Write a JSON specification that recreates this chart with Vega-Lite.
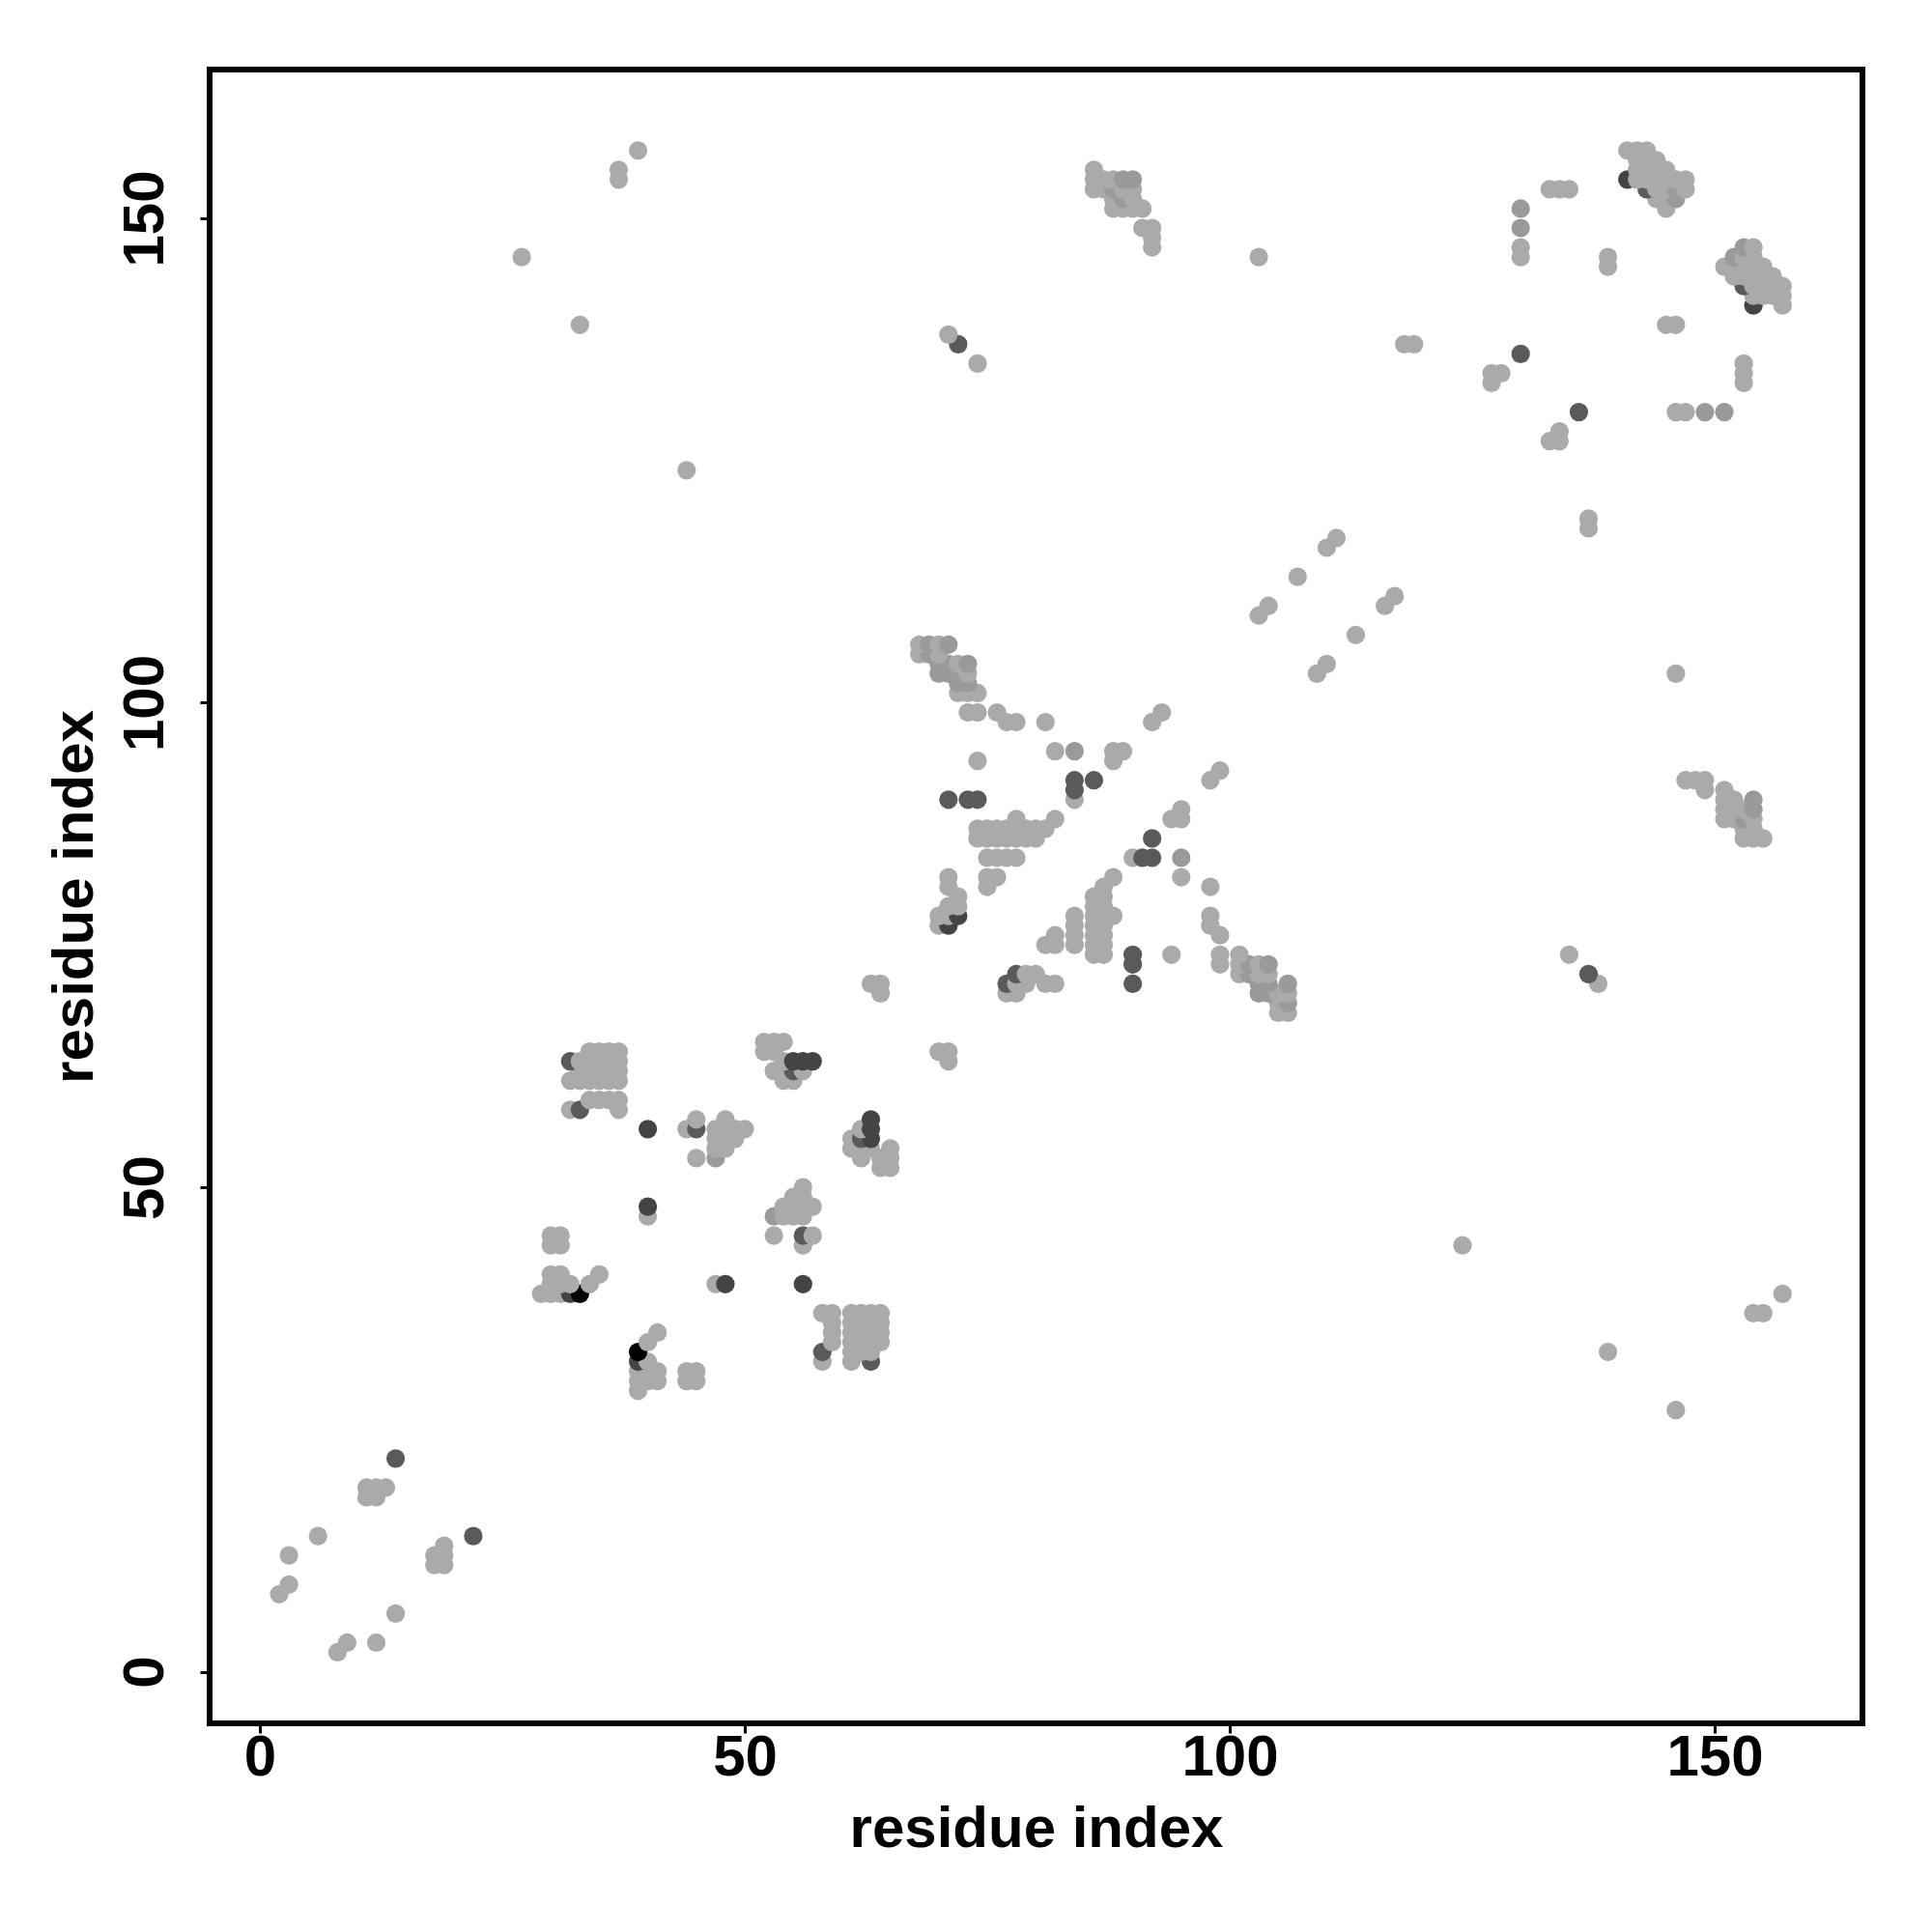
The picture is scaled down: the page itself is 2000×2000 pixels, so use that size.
{"$schema":"https://vega.github.io/schema/vega-lite/v6.json","autosize":{"type":"none"},"padding":{"left":217,"top":72,"right":72,"bottom":216},"width":1711,"height":1712,"background":"#ffffff","view":{"stroke":"#000000","strokeWidth":6,"fill":null},
"data":{"values":[
{"x":8,"y":2,"g":"a"},{"x":9,"y":3,"g":"a"},{"x":12,"y":3,"g":"a"},{"x":14,"y":6,"g":"a"},{"x":2,"y":8,"g":"a"},{"x":3,"y":9,"g":"a"},{"x":18,"y":11,"g":"a"},{"x":19,"y":11,"g":"a"},{"x":3,"y":12,"g":"a"},{"x":18,"y":12,"g":"a"},{"x":19,"y":12,"g":"a"},{"x":19,"y":13,"g":"a"},{"x":6,"y":14,"g":"a"},{"x":22,"y":14,"g":"d"},{"x":11,"y":18,"g":"a"},{"x":12,"y":18,"g":"a"},{"x":11,"y":19,"g":"a"},{"x":12,"y":19,"g":"a"},{"x":13,"y":19,"g":"a"},{"x":14,"y":22,"g":"d"},{"x":146,"y":27,"g":"a"},
{"x":39,"y":29,"g":"a"},{"x":39,"y":30,"g":"a"},{"x":40,"y":30,"g":"a"},{"x":41,"y":30,"g":"a"},{"x":44,"y":30,"g":"a"},{"x":45,"y":30,"g":"a"},{"x":39,"y":31,"g":"a"},{"x":40,"y":31,"g":"a"},{"x":41,"y":31,"g":"a"},{"x":44,"y":31,"g":"a"},{"x":45,"y":31,"g":"a"},
{"x":39,"y":32,"g":"e"},{"x":40,"y":32,"g":"a"},{"x":58,"y":32,"g":"a"},{"x":61,"y":32,"g":"a"},{"x":63,"y":32,"g":"d"},
{"x":39,"y":33,"g":"k"},{"x":58,"y":33,"g":"d"},{"x":61,"y":33,"g":"a"},{"x":62,"y":33,"g":"a"},{"x":63,"y":33,"g":"a"},{"x":139,"y":33,"g":"a"},
{"x":40,"y":34,"g":"a"},{"x":59,"y":34,"g":"a"},{"x":61,"y":34,"g":"a"},{"x":62,"y":34,"g":"a"},{"x":63,"y":34,"g":"a"},{"x":64,"y":34,"g":"a"},
{"x":41,"y":35,"g":"a"},{"x":59,"y":35,"g":"a"},{"x":61,"y":35,"g":"a"},{"x":62,"y":35,"g":"a"},{"x":63,"y":35,"g":"a"},{"x":64,"y":35,"g":"a"},
{"x":59,"y":36,"g":"a"},{"x":61,"y":36,"g":"a"},{"x":62,"y":36,"g":"a"},{"x":63,"y":36,"g":"a"},{"x":64,"y":36,"g":"a"},
{"x":58,"y":37,"g":"a"},{"x":59,"y":37,"g":"a"},{"x":61,"y":37,"g":"a"},{"x":62,"y":37,"g":"a"},{"x":63,"y":37,"g":"a"},{"x":64,"y":37,"g":"a"},{"x":154,"y":37,"g":"a"},{"x":155,"y":37,"g":"a"},
{"x":29,"y":39,"g":"a"},{"x":30,"y":39,"g":"a"},{"x":31,"y":39,"g":"a"},{"x":32,"y":39,"g":"e"},{"x":33,"y":39,"g":"k"},{"x":157,"y":39,"g":"a"},
{"x":30,"y":40,"g":"a"},{"x":31,"y":40,"g":"a"},{"x":32,"y":40,"g":"a"},{"x":34,"y":40,"g":"a"},{"x":47,"y":40,"g":"a"},{"x":48,"y":40,"g":"e"},{"x":56,"y":40,"g":"e"},
{"x":30,"y":41,"g":"a"},{"x":31,"y":41,"g":"a"},{"x":35,"y":41,"g":"a"},
{"x":30,"y":44,"g":"a"},{"x":31,"y":44,"g":"a"},{"x":56,"y":44,"g":"a"},{"x":124,"y":44,"g":"a"},
{"x":30,"y":45,"g":"a"},{"x":31,"y":45,"g":"a"},{"x":53,"y":45,"g":"a"},{"x":56,"y":45,"g":"d"},{"x":57,"y":45,"g":"a"},
{"x":40,"y":47,"g":"a"},{"x":53,"y":47,"g":"m"},{"x":54,"y":47,"g":"a"},{"x":55,"y":47,"g":"a"},{"x":56,"y":47,"g":"a"},
{"x":40,"y":48,"g":"e"},{"x":54,"y":48,"g":"a"},{"x":55,"y":48,"g":"a"},{"x":56,"y":48,"g":"a"},{"x":57,"y":48,"g":"a"},
{"x":55,"y":49,"g":"a"},{"x":56,"y":49,"g":"a"},{"x":56,"y":50,"g":"a"},
{"x":64,"y":52,"g":"a"},{"x":65,"y":52,"g":"a"},
{"x":45,"y":53,"g":"a"},{"x":47,"y":53,"g":"m"},{"x":62,"y":53,"g":"a"},{"x":64,"y":53,"g":"a"},{"x":65,"y":53,"g":"a"},
{"x":47,"y":54,"g":"a"},{"x":48,"y":54,"g":"a"},{"x":61,"y":54,"g":"a"},{"x":62,"y":54,"g":"a"},{"x":63,"y":54,"g":"a"},{"x":65,"y":54,"g":"a"},
{"x":47,"y":55,"g":"a"},{"x":48,"y":55,"g":"a"},{"x":49,"y":55,"g":"a"},{"x":61,"y":55,"g":"a"},{"x":62,"y":55,"g":"d"},{"x":63,"y":55,"g":"e"},
{"x":40,"y":56,"g":"e"},{"x":44,"y":56,"g":"a"},{"x":45,"y":56,"g":"d"},{"x":47,"y":56,"g":"a"},{"x":48,"y":56,"g":"a"},{"x":49,"y":56,"g":"a"},{"x":50,"y":56,"g":"a"},{"x":62,"y":56,"g":"a"},{"x":63,"y":56,"g":"e"},
{"x":45,"y":57,"g":"a"},{"x":48,"y":57,"g":"a"},{"x":63,"y":57,"g":"e"},
{"x":32,"y":58,"g":"a"},{"x":33,"y":58,"g":"d"},{"x":37,"y":58,"g":"a"},
{"x":34,"y":59,"g":"a"},{"x":35,"y":59,"g":"a"},{"x":36,"y":59,"g":"a"},{"x":37,"y":59,"g":"a"},
{"x":32,"y":61,"g":"a"},{"x":33,"y":61,"g":"a"},{"x":34,"y":61,"g":"a"},{"x":35,"y":61,"g":"a"},{"x":36,"y":61,"g":"a"},{"x":37,"y":61,"g":"a"},{"x":54,"y":61,"g":"a"},{"x":55,"y":61,"g":"a"},
{"x":33,"y":62,"g":"a"},{"x":34,"y":62,"g":"a"},{"x":35,"y":62,"g":"a"},{"x":36,"y":62,"g":"a"},{"x":37,"y":62,"g":"a"},{"x":53,"y":62,"g":"a"},{"x":54,"y":62,"g":"a"},{"x":55,"y":62,"g":"d"},{"x":56,"y":62,"g":"a"},
{"x":32,"y":63,"g":"d"},{"x":33,"y":63,"g":"a"},{"x":34,"y":63,"g":"a"},{"x":35,"y":63,"g":"a"},{"x":36,"y":63,"g":"a"},{"x":37,"y":63,"g":"a"},{"x":54,"y":63,"g":"a"},{"x":55,"y":63,"g":"e"},{"x":56,"y":63,"g":"e"},{"x":57,"y":63,"g":"e"},{"x":71,"y":63,"g":"a"},
{"x":34,"y":64,"g":"a"},{"x":35,"y":64,"g":"a"},{"x":36,"y":64,"g":"a"},{"x":37,"y":64,"g":"a"},{"x":52,"y":64,"g":"a"},{"x":53,"y":64,"g":"a"},{"x":70,"y":64,"g":"a"},{"x":71,"y":64,"g":"a"},
{"x":52,"y":65,"g":"a"},{"x":53,"y":65,"g":"a"},{"x":54,"y":65,"g":"a"},
{"x":105,"y":68,"g":"a"},{"x":106,"y":68,"g":"a"},{"x":105,"y":69,"g":"a"},{"x":106,"y":69,"g":"m"},
{"x":64,"y":70,"g":"a"},{"x":77,"y":70,"g":"a"},{"x":78,"y":70,"g":"a"},{"x":103,"y":70,"g":"m"},{"x":104,"y":70,"g":"m"},{"x":105,"y":70,"g":"a"},{"x":106,"y":70,"g":"a"},
{"x":63,"y":71,"g":"a"},{"x":64,"y":71,"g":"a"},{"x":77,"y":71,"g":"d"},{"x":78,"y":71,"g":"a"},{"x":79,"y":71,"g":"a"},{"x":81,"y":71,"g":"a"},{"x":82,"y":71,"g":"a"},{"x":90,"y":71,"g":"d"},{"x":103,"y":71,"g":"m"},{"x":104,"y":71,"g":"m"},{"x":106,"y":71,"g":"m"},{"x":138,"y":71,"g":"a"},
{"x":78,"y":72,"g":"d"},{"x":79,"y":72,"g":"a"},{"x":80,"y":72,"g":"a"},{"x":101,"y":72,"g":"a"},{"x":102,"y":72,"g":"m"},{"x":103,"y":72,"g":"a"},{"x":104,"y":72,"g":"a"},{"x":137,"y":72,"g":"d"},
{"x":90,"y":73,"g":"d"},{"x":99,"y":73,"g":"a"},{"x":101,"y":73,"g":"a"},{"x":102,"y":73,"g":"m"},{"x":103,"y":73,"g":"a"},{"x":104,"y":73,"g":"m"},
{"x":86,"y":74,"g":"a"},{"x":87,"y":74,"g":"a"},{"x":90,"y":74,"g":"d"},{"x":94,"y":74,"g":"a"},{"x":99,"y":74,"g":"a"},{"x":101,"y":74,"g":"a"},{"x":135,"y":74,"g":"a"},
{"x":81,"y":75,"g":"a"},{"x":82,"y":75,"g":"a"},{"x":84,"y":75,"g":"a"},{"x":86,"y":75,"g":"a"},{"x":87,"y":75,"g":"a"},
{"x":82,"y":76,"g":"a"},{"x":84,"y":76,"g":"a"},{"x":86,"y":76,"g":"a"},{"x":87,"y":76,"g":"a"},{"x":99,"y":76,"g":"a"},
{"x":70,"y":77,"g":"a"},{"x":71,"y":77,"g":"e"},{"x":84,"y":77,"g":"a"},{"x":86,"y":77,"g":"a"},{"x":87,"y":77,"g":"a"},{"x":98,"y":77,"g":"a"},
{"x":70,"y":78,"g":"a"},{"x":71,"y":78,"g":"a"},{"x":72,"y":78,"g":"e"},{"x":84,"y":78,"g":"a"},{"x":86,"y":78,"g":"a"},{"x":87,"y":78,"g":"a"},{"x":88,"y":78,"g":"a"},{"x":98,"y":78,"g":"a"},
{"x":71,"y":79,"g":"a"},{"x":72,"y":79,"g":"a"},{"x":86,"y":79,"g":"a"},{"x":87,"y":79,"g":"a"},
{"x":72,"y":80,"g":"a"},{"x":86,"y":80,"g":"a"},{"x":87,"y":80,"g":"a"},
{"x":71,"y":81,"g":"a"},{"x":75,"y":81,"g":"a"},{"x":87,"y":81,"g":"a"},{"x":98,"y":81,"g":"a"},
{"x":71,"y":82,"g":"a"},{"x":75,"y":82,"g":"a"},{"x":76,"y":82,"g":"a"},{"x":88,"y":82,"g":"a"},{"x":95,"y":82,"g":"a"},
{"x":75,"y":84,"g":"a"},{"x":76,"y":84,"g":"a"},{"x":77,"y":84,"g":"a"},{"x":78,"y":84,"g":"a"},{"x":90,"y":84,"g":"a"},{"x":91,"y":84,"g":"d"},{"x":92,"y":84,"g":"d"},{"x":95,"y":84,"g":"m"},
{"x":74,"y":86,"g":"a"},{"x":75,"y":86,"g":"a"},{"x":76,"y":86,"g":"a"},{"x":77,"y":86,"g":"a"},{"x":78,"y":86,"g":"a"},{"x":79,"y":86,"g":"a"},{"x":80,"y":86,"g":"a"},{"x":92,"y":86,"g":"d"},{"x":153,"y":86,"g":"a"},{"x":154,"y":86,"g":"a"},{"x":155,"y":86,"g":"a"},
{"x":74,"y":87,"g":"a"},{"x":75,"y":87,"g":"a"},{"x":76,"y":87,"g":"a"},{"x":77,"y":87,"g":"a"},{"x":78,"y":87,"g":"a"},{"x":79,"y":87,"g":"a"},{"x":80,"y":87,"g":"a"},{"x":81,"y":87,"g":"a"},{"x":153,"y":87,"g":"a"},{"x":154,"y":87,"g":"a"},
{"x":78,"y":88,"g":"a"},{"x":82,"y":88,"g":"a"},{"x":94,"y":88,"g":"a"},{"x":95,"y":88,"g":"a"},{"x":151,"y":88,"g":"a"},{"x":152,"y":88,"g":"a"},{"x":153,"y":88,"g":"m"},{"x":154,"y":88,"g":"a"},
{"x":95,"y":89,"g":"a"},{"x":151,"y":89,"g":"a"},{"x":152,"y":89,"g":"a"},{"x":153,"y":89,"g":"a"},{"x":154,"y":89,"g":"m"},
{"x":71,"y":90,"g":"d"},{"x":73,"y":90,"g":"d"},{"x":74,"y":90,"g":"d"},{"x":84,"y":90,"g":"a"},{"x":151,"y":90,"g":"a"},{"x":152,"y":90,"g":"a"},{"x":154,"y":90,"g":"m"},
{"x":84,"y":91,"g":"d"},{"x":149,"y":91,"g":"a"},{"x":151,"y":91,"g":"a"},
{"x":84,"y":92,"g":"d"},{"x":86,"y":92,"g":"d"},{"x":98,"y":92,"g":"a"},{"x":147,"y":92,"g":"a"},{"x":148,"y":92,"g":"a"},{"x":149,"y":92,"g":"a"},
{"x":99,"y":93,"g":"a"},{"x":74,"y":94,"g":"a"},{"x":88,"y":94,"g":"a"},
{"x":82,"y":95,"g":"a"},{"x":84,"y":95,"g":"m"},{"x":88,"y":95,"g":"a"},{"x":89,"y":95,"g":"a"},
{"x":77,"y":98,"g":"a"},{"x":78,"y":98,"g":"a"},{"x":81,"y":98,"g":"a"},{"x":92,"y":98,"g":"a"},
{"x":73,"y":99,"g":"a"},{"x":74,"y":99,"g":"a"},{"x":76,"y":99,"g":"a"},{"x":93,"y":99,"g":"a"},
{"x":72,"y":101,"g":"a"},{"x":73,"y":101,"g":"a"},{"x":74,"y":101,"g":"a"},{"x":72,"y":102,"g":"m"},{"x":73,"y":102,"g":"m"},
{"x":70,"y":103,"g":"m"},{"x":71,"y":103,"g":"m"},{"x":72,"y":103,"g":"m"},{"x":73,"y":103,"g":"a"},{"x":109,"y":103,"g":"a"},{"x":146,"y":103,"g":"a"},
{"x":70,"y":104,"g":"m"},{"x":71,"y":104,"g":"m"},{"x":72,"y":104,"g":"a"},{"x":73,"y":104,"g":"m"},{"x":110,"y":104,"g":"a"},
{"x":68,"y":105,"g":"a"},{"x":69,"y":105,"g":"m"},{"x":70,"y":105,"g":"a"},
{"x":68,"y":106,"g":"a"},{"x":69,"y":106,"g":"m"},{"x":70,"y":106,"g":"a"},{"x":71,"y":106,"g":"m"},
{"x":113,"y":107,"g":"a"},{"x":103,"y":109,"g":"a"},{"x":104,"y":110,"g":"a"},{"x":116,"y":110,"g":"a"},{"x":117,"y":111,"g":"a"},{"x":107,"y":113,"g":"a"},{"x":110,"y":116,"g":"a"},{"x":111,"y":117,"g":"a"},
{"x":137,"y":118,"g":"a"},{"x":137,"y":119,"g":"a"},{"x":44,"y":124,"g":"a"},{"x":133,"y":127,"g":"a"},{"x":134,"y":127,"g":"a"},{"x":134,"y":128,"g":"a"},
{"x":136,"y":130,"g":"d"},{"x":146,"y":130,"g":"a"},{"x":147,"y":130,"g":"a"},{"x":149,"y":130,"g":"m"},{"x":151,"y":130,"g":"m"},
{"x":127,"y":133,"g":"a"},{"x":153,"y":133,"g":"a"},{"x":127,"y":134,"g":"a"},{"x":128,"y":134,"g":"a"},{"x":153,"y":134,"g":"a"},{"x":74,"y":135,"g":"a"},{"x":153,"y":135,"g":"a"},{"x":130,"y":136,"g":"d"},
{"x":72,"y":137,"g":"d"},{"x":118,"y":137,"g":"a"},{"x":119,"y":137,"g":"a"},{"x":71,"y":138,"g":"a"},{"x":33,"y":139,"g":"a"},{"x":145,"y":139,"g":"a"},{"x":146,"y":139,"g":"a"},
{"x":154,"y":141,"g":"e"},{"x":157,"y":141,"g":"a"},{"x":154,"y":142,"g":"a"},{"x":155,"y":142,"g":"a"},{"x":156,"y":142,"g":"a"},{"x":157,"y":142,"g":"a"},
{"x":153,"y":143,"g":"d"},{"x":154,"y":143,"g":"a"},{"x":155,"y":143,"g":"a"},{"x":156,"y":143,"g":"a"},{"x":157,"y":143,"g":"a"},
{"x":152,"y":144,"g":"a"},{"x":153,"y":144,"g":"a"},{"x":154,"y":144,"g":"a"},{"x":155,"y":144,"g":"a"},{"x":156,"y":144,"g":"a"},
{"x":139,"y":145,"g":"a"},{"x":151,"y":145,"g":"a"},{"x":152,"y":145,"g":"a"},{"x":153,"y":145,"g":"a"},{"x":154,"y":145,"g":"a"},{"x":155,"y":145,"g":"a"},
{"x":27,"y":146,"g":"a"},{"x":103,"y":146,"g":"a"},{"x":130,"y":146,"g":"a"},{"x":139,"y":146,"g":"a"},{"x":152,"y":146,"g":"m"},{"x":153,"y":146,"g":"a"},{"x":154,"y":146,"g":"a"},
{"x":92,"y":147,"g":"a"},{"x":130,"y":147,"g":"a"},{"x":153,"y":147,"g":"m"},{"x":154,"y":147,"g":"a"},
{"x":92,"y":148,"g":"a"},{"x":91,"y":149,"g":"a"},{"x":92,"y":149,"g":"a"},{"x":130,"y":149,"g":"m"},
{"x":88,"y":151,"g":"a"},{"x":89,"y":151,"g":"a"},{"x":90,"y":151,"g":"a"},{"x":91,"y":151,"g":"a"},{"x":130,"y":151,"g":"m"},{"x":145,"y":151,"g":"a"},
{"x":88,"y":152,"g":"a"},{"x":89,"y":152,"g":"m"},{"x":90,"y":152,"g":"a"},{"x":144,"y":152,"g":"a"},{"x":145,"y":152,"g":"a"},{"x":146,"y":152,"g":"m"},
{"x":86,"y":153,"g":"a"},{"x":87,"y":153,"g":"a"},{"x":88,"y":153,"g":"m"},{"x":89,"y":153,"g":"a"},{"x":90,"y":153,"g":"a"},{"x":133,"y":153,"g":"a"},{"x":134,"y":153,"g":"a"},{"x":135,"y":153,"g":"a"},{"x":143,"y":153,"g":"d"},{"x":144,"y":153,"g":"a"},{"x":145,"y":153,"g":"a"},{"x":146,"y":153,"g":"m"},{"x":147,"y":153,"g":"a"},
{"x":37,"y":154,"g":"a"},{"x":86,"y":154,"g":"a"},{"x":87,"y":154,"g":"a"},{"x":88,"y":154,"g":"a"},{"x":89,"y":154,"g":"m"},{"x":90,"y":154,"g":"m"},{"x":141,"y":154,"g":"e"},{"x":142,"y":154,"g":"a"},{"x":143,"y":154,"g":"a"},{"x":144,"y":154,"g":"a"},{"x":145,"y":154,"g":"a"},{"x":146,"y":154,"g":"a"},{"x":147,"y":154,"g":"a"},
{"x":37,"y":155,"g":"a"},{"x":86,"y":155,"g":"a"},{"x":142,"y":155,"g":"a"},{"x":143,"y":155,"g":"a"},{"x":144,"y":155,"g":"a"},{"x":145,"y":155,"g":"a"},
{"x":142,"y":156,"g":"a"},{"x":143,"y":156,"g":"a"},{"x":144,"y":156,"g":"a"},
{"x":39,"y":157,"g":"a"},{"x":141,"y":157,"g":"a"},{"x":142,"y":157,"g":"a"},{"x":143,"y":157,"g":"a"}
]},
"mark":{"type":"point","filled":true,"shape":"circle","size":370,"opacity":1,"clip":false},
"encoding":{
"x":{"field":"x","type":"quantitative","scale":{"domain":[-5.18,165.24],"nice":false,"zero":false},"axis":{"values":[0,50,100,150],"grid":false,"domain":false,"ticks":true,"tickSize":10,"tickWidth":3,"tickColor":"#000000","labelFont":"Liberation Sans","labelFontWeight":"bold","labelFontSize":60,"labelColor":"#000000","labelPadding":-4,"title":"residue index","titleFont":"Liberation Sans","titleFontWeight":"bold","titleFontSize":60,"titleColor":"#000000","titlePadding":15}},
"y":{"field":"y","type":"quantitative","scale":{"domain":[-5.33,165.35],"nice":false,"zero":false},"axis":{"values":[0,50,100,150],"grid":false,"domain":false,"ticks":true,"tickSize":10,"tickWidth":3,"tickColor":"#000000","labelFont":"Liberation Sans","labelFontWeight":"bold","labelFontSize":60,"labelColor":"#000000","labelAngle":-90,"labelAlign":"center","labelBaseline":"bottom","labelPadding":25.5,"title":"residue index","titleFont":"Liberation Sans","titleFontWeight":"bold","titleFontSize":60,"titleColor":"#000000","titlePadding":12.5}},
"color":{"field":"g","type":"nominal","legend":null,"scale":{"domain":["a","m","d","e","k"],"range":["#aaaaaa","#9a9a9a","#5a5a5a","#444444","#000000"]}}
}}
